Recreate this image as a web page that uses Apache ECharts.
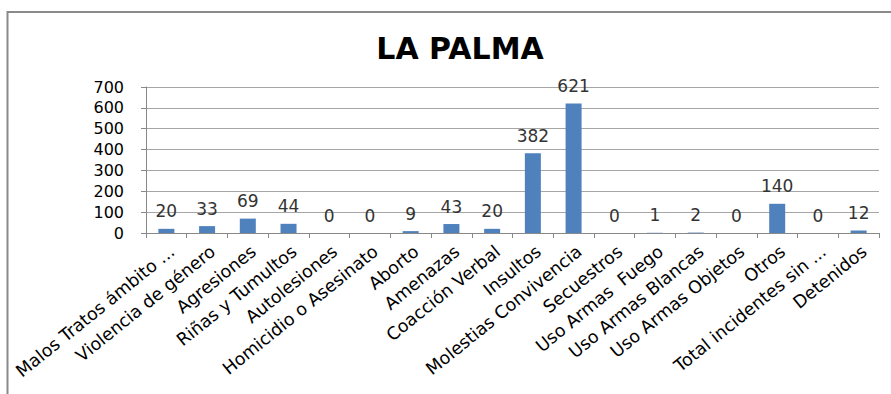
<!DOCTYPE html>
<html>
<head>
<meta charset="utf-8">
<script src="https://cdn.jsdelivr.net/npm/echarts@6/dist/echarts.min.js"></script>
<style>
html,body{margin:0;padding:0;background:#fff;}
#chart{width:891px;height:394px;}
</style>
</head>
<body>
<div id="chart"></div>
<script>
const titleText = "LA PALMA";
const categories = [
  "Malos Tratos ámbito ...",
  "Violencia de género",
  "Agresiones",
  "Riñas y Tumultos",
  "Autolesiones",
  "Homicidio o Asesinato",
  "Aborto",
  "Amenazas",
  "Coacción Verbal",
  "Insultos",
  "Molestias Convivencia",
  "Secuestros",
  "Uso Armas  Fuego",
  "Uso Armas Blancas",
  "Uso Armas Objetos",
  "Otros",
  "Total incidentes sin ...",
  "Detenidos"
];
const values = [20, 33, 69, 44, 0, 0, 9, 43, 20, 382, 621, 0, 1, 2, 0, 140, 0, 12];
const yTicks = [0, 100, 200, 300, 400, 500, 600, 700];

const FONT = "DejaVu Sans";
const chart = echarts.init(document.getElementById('chart'), null, {renderer: 'svg'});
chart.setOption({
  animation: false,
  backgroundColor: '#ffffff',
  title: {
    text: titleText,
    left: 455,
    textAlign: 'center',
    top: 28,
    textStyle: {fontFamily: FONT, fontWeight: 'bold', fontSize: 30, color: '#000'}
  },
  graphic: [{
    type: 'rect',
    shape: {x: 7.5, y: 12, width: 1000, height: 500},
    style: {fill: 'none', stroke: '#8a8a8a', lineWidth: 2},
    silent: true
  }],
  grid: {left: 146, right: 12, top: 87, bottom: 161, containLabel: false},
  xAxis: {
    type: 'category',
    data: categories,
    axisLine: {lineStyle: {color: '#888', width: 1}},
    axisTick: {show: true, length: 5, lineStyle: {color: '#888'}},
    axisLabel: {
      interval: 0,
      rotate: 39,
      fontFamily: FONT,
      fontSize: 17.5,
      color: '#000',
      margin: 9,
      verticalAlign: 'top'
    }
  },
  yAxis: {
    type: 'value',
    min: yTicks[0],
    max: yTicks[yTicks.length - 1],
    interval: 100,
    axisLine: {show: true, lineStyle: {color: '#888'}},
    axisTick: {show: true, length: 5, lineStyle: {color: '#888'}},
    splitLine: {lineStyle: {color: '#a6a6a6', width: 1}},
    axisLabel: {fontFamily: FONT, fontSize: 16, color: '#000', margin: 22}
  },
  series: [{
    type: 'bar',
    data: values,
    barWidth: 16,
    itemStyle: {color: '#4f81bd'},
    label: {
      show: true,
      position: 'top',
      distance: 9,
      fontFamily: FONT,
      fontSize: 17,
      color: '#333'
    }
  }]
});
</script>
</body>
</html>
